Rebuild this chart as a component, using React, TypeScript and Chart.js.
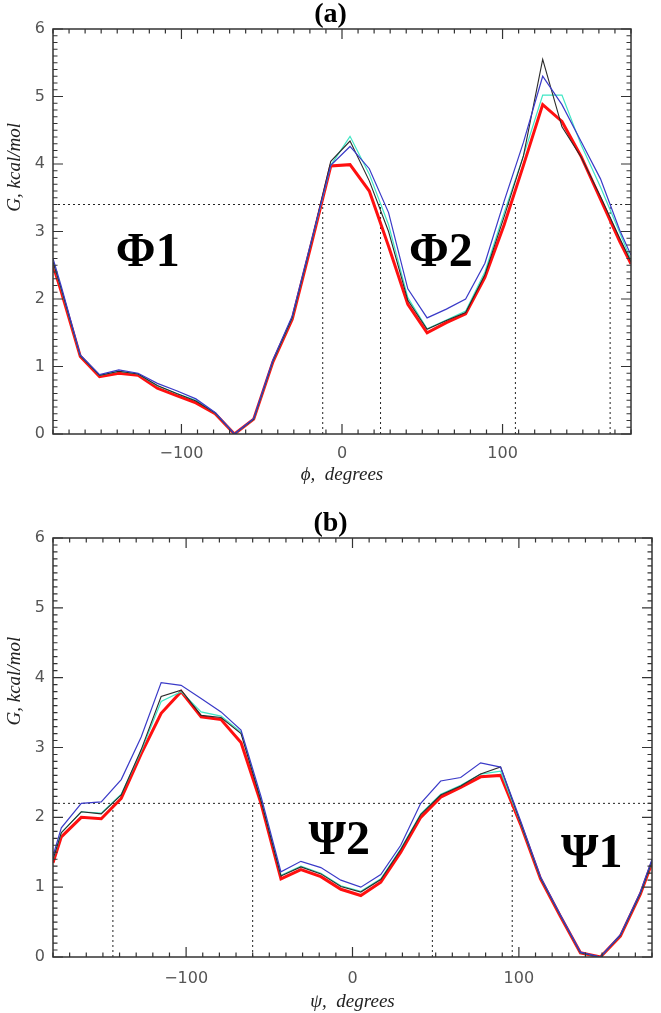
import React, { useEffect, useRef } from 'react';
import { Chart, registerables } from 'chart.js';

Chart.register(...registerables);

// ---------- data ----------
const angles = [-180, -175, -163, -151, -139, -127, -115, -103, -91, -79, -67, -55, -43, -31, -19, -7, 5, 17, 29, 41, 53, 65, 77, 89, 101, 113, 125, 137, 149, 161, 173, 180];

const phiRed = [2.50, 2.12, 1.15, 0.85, 0.90, 0.87, 0.68, 0.57, 0.46, 0.30, 0.00, 0.22, 1.07, 1.70, 2.82, 3.97, 3.99, 3.60, 2.78, 1.92, 1.50, 1.65, 1.78, 2.32, 3.10, 3.98, 4.88, 4.63, 4.11, 3.48, 2.85, 2.52];
const phiBlue = [2.60, 2.20, 1.17, 0.88, 0.95, 0.90, 0.75, 0.64, 0.52, 0.32, 0.00, 0.23, 1.10, 1.75, 2.87, 3.98, 4.26, 3.93, 3.28, 2.15, 1.72, 1.85, 2.00, 2.53, 3.45, 4.32, 5.30, 4.88, 4.33, 3.78, 3.02, 2.65];
const phiBlack = [2.55, 2.16, 1.16, 0.87, 0.93, 0.89, 0.72, 0.60, 0.49, 0.31, 0.00, 0.22, 1.08, 1.72, 2.85, 4.04, 4.34, 3.75, 3.00, 1.98, 1.55, 1.68, 1.80, 2.36, 3.22, 4.12, 5.55, 4.55, 4.10, 3.52, 2.90, 2.55];
const phiCyan = [2.55, 2.16, 1.16, 0.87, 0.93, 0.89, 0.71, 0.60, 0.50, 0.31, 0.00, 0.22, 1.08, 1.72, 2.85, 3.98, 4.41, 3.85, 3.10, 2.02, 1.56, 1.69, 1.82, 2.40, 3.28, 4.12, 5.02, 5.02, 4.28, 3.66, 2.98, 2.58];

const psiRed = [1.35, 1.72, 2.00, 1.98, 2.27, 2.91, 3.49, 3.80, 3.44, 3.40, 3.07, 2.20, 1.12, 1.25, 1.15, 0.97, 0.88, 1.07, 1.50, 2.00, 2.29, 2.43, 2.58, 2.60, 1.90, 1.12, 0.58, 0.06, 0.00, 0.30, 0.90, 1.35];
const psiBlue = [1.45, 1.85, 2.20, 2.22, 2.54, 3.15, 3.93, 3.89, 3.70, 3.51, 3.25, 2.30, 1.22, 1.37, 1.28, 1.10, 1.00, 1.18, 1.60, 2.20, 2.52, 2.57, 2.78, 2.72, 1.95, 1.15, 0.60, 0.07, 0.00, 0.32, 0.93, 1.40];
const psiBlack = [1.40, 1.78, 2.08, 2.05, 2.32, 2.97, 3.73, 3.82, 3.46, 3.43, 3.20, 2.24, 1.16, 1.29, 1.19, 1.01, 0.93, 1.11, 1.54, 2.04, 2.32, 2.45, 2.62, 2.72, 1.92, 1.13, 0.59, 0.06, 0.00, 0.31, 0.91, 1.37];
const psiCyan = [1.40, 1.78, 2.08, 2.06, 2.33, 2.95, 3.66, 3.80, 3.51, 3.45, 3.22, 2.26, 1.17, 1.30, 1.20, 1.02, 0.94, 1.12, 1.55, 2.05, 2.33, 2.46, 2.62, 2.66, 1.92, 1.13, 0.59, 0.06, 0.00, 0.31, 0.91, 1.37];

const xTickValues = [-100, 0, 100];
const yTickValues = [0, 1, 2, 3, 4, 5, 6];

const phiCut = 3.4;
const phiBarriers = [-12, 24, 108, 167];
const phiCutSpans = [[-180, 108], [167, 180]];
const psiCut = 2.2;
const psiBarriers = [-144, -60, 48, 96];
const psiCutSpans = [[-180, 180]];

const phiLabels = [
  { text: 'Φ1', x: -121, y: 2.67 },
  { text: 'Φ2', x: 61.6, y: 2.67 },
];
const psiLabels = [
  { text: 'Ψ2', x: -8, y: 1.65 },
  { text: 'Ψ1', x: 143.8, y: 1.47 },
];

// ---------- styling ----------
const COLORS = { red: '#ff1010', blue: '#3a3ac8', black: '#2a2a2a', cyan: '#3ee6c4' };

const fmtTick = (v: number) => (v < 0 ? '\u2212' + Math.abs(v) : String(v));

const idlPlugin = {
  id: 'idlFrame',
  afterDraw(chart: any, _args: any, opts: any) {
    const { ctx, chartArea, scales } = chart;
    const { left, right, top, bottom } = chartArea;
    const xs = scales.x;
    const ys = scales.y;
    ctx.save();
    ctx.strokeStyle = '#333';
    ctx.lineWidth = 1.5;
    ctx.strokeRect(left, top, right - left, bottom - top);
    ctx.lineWidth = 1.2;
    ctx.beginPath();
    for (let v = -180; v <= 180; v += 10) {
      const px = xs.getPixelForValue(v);
      const len = v % 100 === 0 ? 10 : 4.5;
      ctx.moveTo(px, bottom);
      ctx.lineTo(px, bottom - len);
      ctx.moveTo(px, top);
      ctx.lineTo(px, top + len);
    }
    for (let i = 0; i <= 60; i++) {
      const py = ys.getPixelForValue(i / 10);
      const len = i % 10 === 0 ? 10 : 4.5;
      ctx.moveTo(left, py);
      ctx.lineTo(left + len, py);
      ctx.moveTo(right, py);
      ctx.lineTo(right - len, py);
    }
    ctx.stroke();

    // region labels
    ctx.fillStyle = '#000';
    ctx.textAlign = 'center';
    ctx.textBaseline = 'middle';
    ctx.font = 'bold 48px "Liberation Serif", serif';
    (opts.labels || []).forEach((l: any) => {
      ctx.fillText(l.text, xs.getPixelForValue(l.x), ys.getPixelForValue(l.y));
    });

    // y axis title
    ctx.font = 'italic 19px "Liberation Serif", serif';
    ctx.fillStyle = '#222';
    ctx.translate(opts.yTitleX, ys.getPixelForValue(opts.yTitleValue));
    ctx.rotate(-Math.PI / 2);
    ctx.fillText(opts.yTitle, 0, 0);
    ctx.restore();
  },
};

type PanelProps = {
  title: string;
  xTitle: string;
  series: { values: number[]; color: string; width: number }[];
  cut: number;
  barriers: number[];
  cutSpans: number[][];
  labels: { text: string; x: number; y: number }[];
  height: number;
  titlePadTop: number;
  xAxisHeight: number;
  xTickPad: number;
  xTitlePadBottom: number;
  rightGap: number;
};

function Panel(p: PanelProps) {
  const ref = useRef<HTMLCanvasElement | null>(null);
  useEffect(() => {
    if (!ref.current) return;
    const datasets: any[] = [];
    p.series.forEach((s) => {
      datasets.push({
        data: angles.map((a, i) => ({ x: a, y: s.values[i] })),
        borderColor: s.color,
        borderWidth: s.width,
        pointRadius: 0,
        fill: false,
        tension: 0,
      });
    });
    const dotted = { borderColor: '#222', borderWidth: 1, borderDash: [2, 3], pointRadius: 0, fill: false, tension: 0 };
    p.cutSpans.forEach(([a, b]) => {
      datasets.push({ ...dotted, data: [{ x: a, y: p.cut }, { x: b, y: p.cut }] });
    });
    p.barriers.forEach((b) => {
      datasets.push({ ...dotted, data: [{ x: b, y: 0 }, { x: b, y: p.cut }] });
    });

    const chart = new Chart(ref.current, {
      type: 'line',
      data: { datasets },
      plugins: [idlPlugin],
      options: {
        responsive: false,
        animation: false,
        devicePixelRatio: 1,
        events: [],
        layout: { padding: 0 },
        plugins: {
          legend: { display: false },
          tooltip: { enabled: false },
          title: {
            display: true,
            text: p.title,
            color: '#000',
            font: { family: '"Liberation Serif", serif', size: 28, weight: 'bold', lineHeight: 1 },
            padding: { top: p.titlePadTop, bottom: 0 },
          },
          idlFrame: { labels: p.labels, yTitle: 'G, kcal/mol', yTitleX: 15, yTitleValue: 3.95 },
        } as any,
        scales: {
          x: {
            type: 'linear',
            min: -180,
            max: 180,
            afterBuildTicks: (s: any) => {
              s.ticks = xTickValues.map((v) => ({ value: v }));
            },
            afterFit: (s: any) => {
              s.height = p.xAxisHeight;
            },
            grid: { display: false, drawTicks: false },
            border: { display: false },
            ticks: {
              font: { family: '"DejaVu Sans", sans-serif', size: 16 },
              color: '#555',
              padding: p.xTickPad,
              maxRotation: 0,
              autoSkip: false,
              callback: (v: any) => fmtTick(Number(v)),
            },
            title: {
              display: true,
              text: p.xTitle,
              color: '#222',
              font: { family: '"Liberation Serif", serif', size: 19, style: 'italic' },
              padding: { top: 0, bottom: p.xTitlePadBottom },
            },
          },
          y: {
            type: 'linear',
            min: 0,
            max: 6,
            afterBuildTicks: (s: any) => {
              s.ticks = yTickValues.map((v) => ({ value: v }));
            },
            afterFit: (s: any) => {
              s.width = 53;
            },
            grid: { display: false, drawTicks: false },
            border: { display: false },
            ticks: {
              font: { family: '"DejaVu Sans", sans-serif', size: 16 },
              color: '#555',
              padding: 8,
            },
          },
          y2: {
            type: 'linear',
            position: 'right',
            display: true,
            afterFit: (s: any) => {
              s.width = p.rightGap;
            },
            grid: { display: false, drawTicks: false },
            border: { display: false },
            ticks: { display: false },
          },
        },
      } as any,
    });
    return () => chart.destroy();
  }, []);
  return <canvas ref={ref} width={661} height={p.height} style={{ display: 'block' }} />;
}

export default function App() {
  return (
    <div style={{ position: 'absolute', left: 0, top: 0, width: 661, height: 1013, background: '#fff' }}>
      <div style={{ position: 'absolute', left: 0, top: 0 }}>
        <Panel
          title="(a)"
          xTitle="ϕ,  degrees"
          series={[
            { values: phiBlue, color: COLORS.blue, width: 1.2 },
            { values: phiBlack, color: COLORS.black, width: 1.1 },
            { values: phiCyan, color: COLORS.cyan, width: 1.2 },
            { values: phiRed, color: COLORS.red, width: 3 },
          ]}
          cut={phiCut}
          barriers={phiBarriers}
          cutSpans={phiCutSpans}
          labels={phiLabels}
          height={500}
          titlePadTop={1}
          xAxisHeight={66}
          xTickPad={10}
          xTitlePadBottom={14}
          rightGap={30}
        />
      </div>
      <div style={{ position: 'absolute', left: 0, top: 500 }}>
        <Panel
          title="(b)"
          xTitle="ψ,  degrees"
          series={[
            { values: psiBlue, color: COLORS.blue, width: 1.2 },
            { values: psiBlack, color: COLORS.black, width: 1.1 },
            { values: psiCyan, color: COLORS.cyan, width: 1.2 },
            { values: psiRed, color: COLORS.red, width: 3 },
          ]}
          cut={psiCut}
          barriers={psiBarriers}
          cutSpans={psiCutSpans}
          labels={psiLabels}
          height={513}
          titlePadTop={10}
          xAxisHeight={56}
          xTickPad={12}
          xTitlePadBottom={0}
          rightGap={9}
        />
      </div>
    </div>
  );
}
